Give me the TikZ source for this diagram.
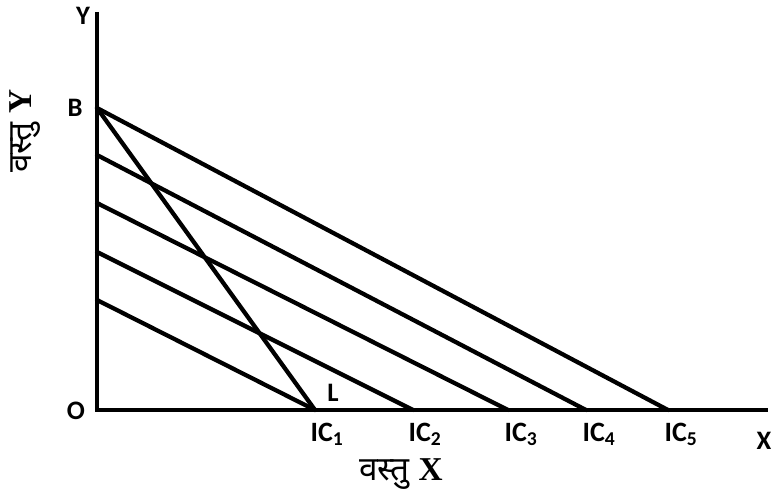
\documentclass[tikz,border=0pt]{standalone}
\usepackage{fontspec}
\setsansfont{Carlito}
\setmainfont{Liberation Serif}
\newfontfamily\devfont[Script=Devanagari]{Noto Sans}
\begin{document}
\begin{tikzpicture}[x=0.75pt,y=-0.75pt,
  axis/.style={line width=3.2pt},
  budget/.style={line width=3.2pt, line cap=round},
  lbl/.style={font=\sffamily\bfseries\fontsize{20}{20}\selectfont, inner sep=0pt},
  iclbl/.style={font=\sffamily\bfseries\fontsize{21}{21}\selectfont, inner sep=0pt},
  hindi/.style={font=\fontsize{25}{25}\selectfont, inner sep=0pt}]
\useasboundingbox (0,0) rectangle (774,499);
\coordinate (O) at (97,410);
\coordinate (Ytop) at (97,12);
\coordinate (Xend) at (768,410);
\coordinate (B) at (97,108);
\coordinate (A4) at (97,155);
\coordinate (A3) at (97,203);
\coordinate (A2) at (97,252);
\coordinate (A1) at (97,300);
\coordinate (P1) at (315,410);
\coordinate (P2) at (413,410);
\coordinate (P3) at (508,410);
\coordinate (P4) at (586,410);
\coordinate (P5) at (668,410);
\draw[axis] (Ytop) -- (O) -- (Xend);
\draw[budget] (B) -- (P5);
\draw[budget] (A4) -- (P4);
\draw[budget] (A3) -- (P3);
\draw[budget] (A2) -- (P2);
\draw[budget] (A1) -- (P1);
\draw[budget] (B) -- (P1);
\node[lbl] (ly) at (83,16) {Y};
\node[lbl] (lb) at (75,108) {B};
\node[lbl] (lo) at (76,411) {O};
\node[lbl] (ll) at (333,393) {L};
\node[lbl] (lx) at (764,441) {X};
\node[iclbl] (ic1) at (327,434) {IC\textsubscript{1}};
\node[iclbl] (ic2) at (425,434) {IC\textsubscript{2}};
\node[iclbl] (ic3) at (521,434) {IC\textsubscript{3}};
\node[iclbl] (ic4) at (599,434) {IC\textsubscript{4}};
\node[iclbl] (ic5) at (681,434) {IC\textsubscript{5}};
\node[hindi] (gx) at (401,474) {{\devfont वस्तु} \textbf{X}};
\node[hindi, rotate=90] (gy) at (25,131) {{\devfont वस्तु} \textbf{Y}};
\end{tikzpicture}
\end{document}
